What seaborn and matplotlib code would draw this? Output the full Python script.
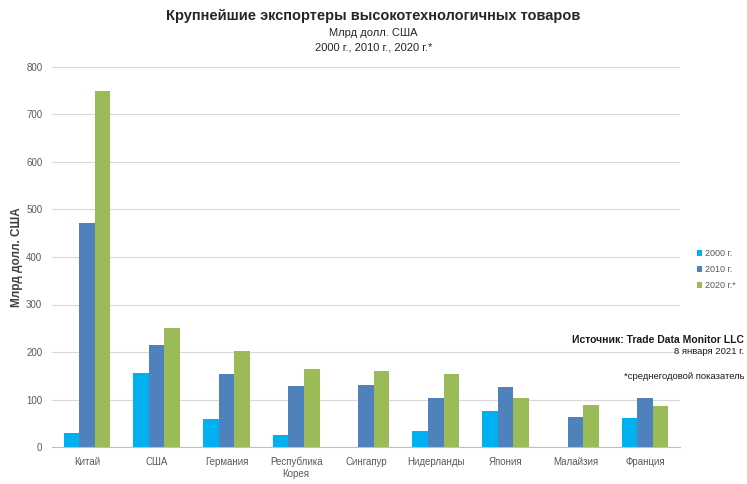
import matplotlib
matplotlib.use("Agg")
import matplotlib.pyplot as plt
import seaborn as sns
import pandas as pd
import numpy as np

countries = ["Китай", "США", "Германия", "Республика\nКорея", "Сингапур",
             "Нидерланды", "Япония", "Малайзия", "Франция"]
v2000 = [30, 156, 58, 25, np.nan, 34, 76, np.nan, 62]
v2010 = [471, 215, 154, 129, 131, 103, 126, 64, 104]
v2020 = [749, 250, 202, 165, 161, 153, 103, 88, 86]
series = ["2000 г.", "2010 г.", "2020 г.*"]
colors = ["#00B0F0", "#4F81BD", "#9BBB59"]

rows = []
for s, vals in zip(series, [v2000, v2010, v2020]):
    for c, v in zip(countries, vals):
        rows.append({"country": c, "series": s, "value": v})
df = pd.DataFrame(rows)

sns.set_style("white")
plt.rcParams["font.family"] = ["Liberation Sans", "DejaVu Sans"]

fig = plt.figure(figsize=(7.47, 4.84), dpi=100)
ax = fig.add_axes([52/747, 1-447/484, 628/747, 380/484])
sns.barplot(data=df, x="country", y="value", hue="series", order=countries,
            hue_order=series, palette=colors, saturation=1, width=0.67,
            linewidth=0, ax=ax, legend=False)

ax.set_ylim(0, 800)
ax.set_xlim(-0.5, len(countries)-0.5)
ax.set_yticks(range(0, 801, 100))
ax.yaxis.grid(True, color="#d9d9d9", linewidth=0.8)
ax.set_axisbelow(True)
for sp in ["top", "right", "left"]:
    ax.spines[sp].set_visible(False)
ax.spines["bottom"].set_color("#bfbfbf")
ax.tick_params(axis="both", length=0, colors="#595959", labelsize=7, pad=7)
ax.set_xlabel("")
ax.set_ylabel("Млрд долл. США", fontsize=8.5, fontweight="bold", color="#404040", labelpad=2)

fig.text(0.5, 0.966, "Крупнейшие экспортеры высокотехнологичных товаров",
         ha="center", va="center", fontsize=10.5, fontweight="bold", color="#262626")
fig.text(0.5, 0.931, "Млрд долл. США", ha="center", va="center", fontsize=8, color="#262626")
fig.text(0.5, 0.902, "2000 г., 2010 г., 2020 г.*", ha="center", va="center", fontsize=8, color="#262626")

from matplotlib.patches import Patch
handles = [Patch(facecolor=c, edgecolor="none") for c in colors]
fig.legend(handles, series, loc="center left", bbox_to_anchor=(0.933, 0.443),
           frameon=False, fontsize=6.5, handlelength=0.6, handleheight=0.6,
           handletextpad=0.3, labelspacing=0.8, labelcolor="#595959",
           borderaxespad=0, borderpad=0)

fig.text(0.996, 0.297, "Источник: Trade Data Monitor LLC", ha="right", va="center",
         fontsize=7.5, fontweight="bold", color="#1a1a1a")
fig.text(0.996, 0.274, "8 января 2021 г.", ha="right", va="center",
         fontsize=6.8, color="#1a1a1a")
fig.text(0.996, 0.223, "*среднегодовой показатель", ha="right", va="center",
         fontsize=6.8, color="#1a1a1a")

fig.savefig("out.png", dpi=100, facecolor="white")
